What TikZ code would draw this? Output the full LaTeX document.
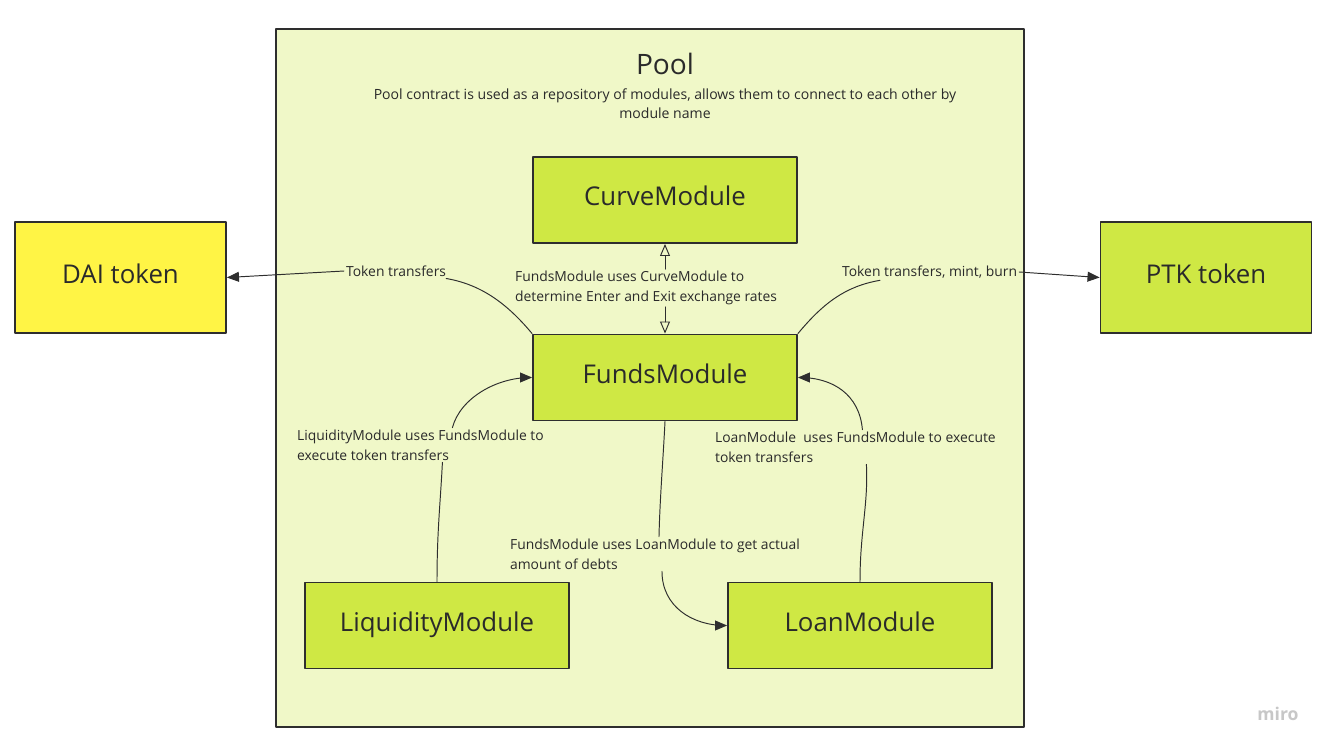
\documentclass[tikz,border=0pt]{standalone}
\usepackage{fontspec}
\setmainfont{Open Sans}
\usepackage{tikz}
\usetikzlibrary{arrows}
\definecolor{poolfill}{HTML}{F0F8C8}
\definecolor{modgreen}{HTML}{CFE844}
\definecolor{daiyellow}{HTML}{FFF445}
\definecolor{edgegray}{HTML}{2E2E2E}
\definecolor{textgray}{HTML}{2A2A2A}
\tikzset{
  modbox/.style={draw=edgegray,line width=1.1pt,fill=modgreen,minimum width=5.28cm,minimum height=1.72cm,inner sep=0pt,text height=0.714em,text depth=0.05em,font=\fontsize{14.7}{18}\selectfont,text=textgray},
  tokbox/.style={modbox,minimum width=4.22cm,minimum height=2.22cm},
  lbl/.style={align=left,inner sep=1pt,font=\fontsize{7.9}{11.3}\selectfont,text=textgray},
  link/.style={draw=edgegray,line width=0.55pt}
}
\begin{document}
\begin{tikzpicture}[line cap=round,line join=round,>=triangle 45,x=0.02cm,y=-0.02cm]
        \useasboundingbox[fill=white] (0,0) rectangle (1329,751);
        \draw[edgegray,line width=1pt,fill=poolfill] (276,29) rectangle (1024,727);

        \node[font=\fontsize{16}{18}\selectfont,text=textgray] (pooltitle) at (665,64) {Pool};
        \node[align=center,font=\fontsize{8}{10.8}\selectfont,text=textgray] (pooldesc) at (665,104) {Pool contract is used as a repository of modules, allows them to connect to each other by\\module name};

        \node[modbox] (curve) at (665,200) {CurveModule};
        \node[modbox] (funds) at (665,377.5) {FundsModule};
        \node[modbox] (liq) at (437,625.5) {LiquidityModule};
        \node[modbox] (loan) at (860,625.5) {LoanModule};
        \node[tokbox,fill=daiyellow] (dai) at (120.5,277.5) {DAI token};
        \node[tokbox] (ptk) at (1206,277.5) {PTK token};

        \node[lbl,anchor=west] (curvetxt) at (513,288) {FundsModule uses CurveModule to\\determine Enter and Exit exchange rates};
        \node[lbl,anchor=west] (daitxt) at (344,271) {Token transfers};
        \node[lbl,anchor=west] (ptktxt) at (840,272) {Token transfers, mint, burn};
        \node[lbl,anchor=west] (liqtxt) at (295,445) {LiquidityModule uses FundsModule to\\execute token transfers};
        \node[lbl,anchor=west] (loantxt) at (713,447) {LoanModule\ \ uses FundsModule to execute\\token transfers};
        \node[lbl,anchor=west] (fundtxt) at (508,554) {FundsModule uses LoanModule to get actual\\amount of debts};

        \draw[link,-open triangle 45] (curve.south |- curvetxt.north) -- (curve.south);
        \draw[link,-open triangle 45] (funds.north |- curvetxt.south) -- (funds.north);

        \draw[link] (funds.north west) .. controls +(-25,-30) and +(35,6) .. ([xshift=-0.04cm]daitxt.south east);
        \draw[link,->] (daitxt.west) -- (dai.east);
        \draw[link] (funds.north east) .. controls +(25,-30) and +(-35,6) .. ([xshift=0.8cm]ptktxt.south west);
        \draw[link,->] (ptktxt.east) -- (ptk.west);

        \draw[link] (liq.north) .. controls +(0,-50) and +(-2,40) .. ([xshift=0.44cm]liqtxt.south);
        \draw[link,->] ([xshift=0.64cm]liqtxt.north) .. controls +(8,-30) and +(-35,0) .. (funds.west);
        \draw[link] (loan.north) .. controls +(0,-50) and +(2,40) .. ([xshift=0.22cm]loantxt.south);
        \draw[link,->] ([xshift=0.14cm]loantxt.north) .. controls +(-3,-35) and +(35,0) .. (funds.east);
        \draw[link] (funds.south) .. controls +(-2,40) and +(1,-40) .. ([xshift=0.08cm]fundtxt.north);
        \draw[link,->] ([xshift=0.14cm]fundtxt.south) .. controls +(0,35) and +(-35,0) .. (loan.west);

        \node[text=black!22,font=\fontsize{10}{12}\selectfont\bfseries] (miro) at (1278,714) {miro};
\end{tikzpicture}
\end{document}
